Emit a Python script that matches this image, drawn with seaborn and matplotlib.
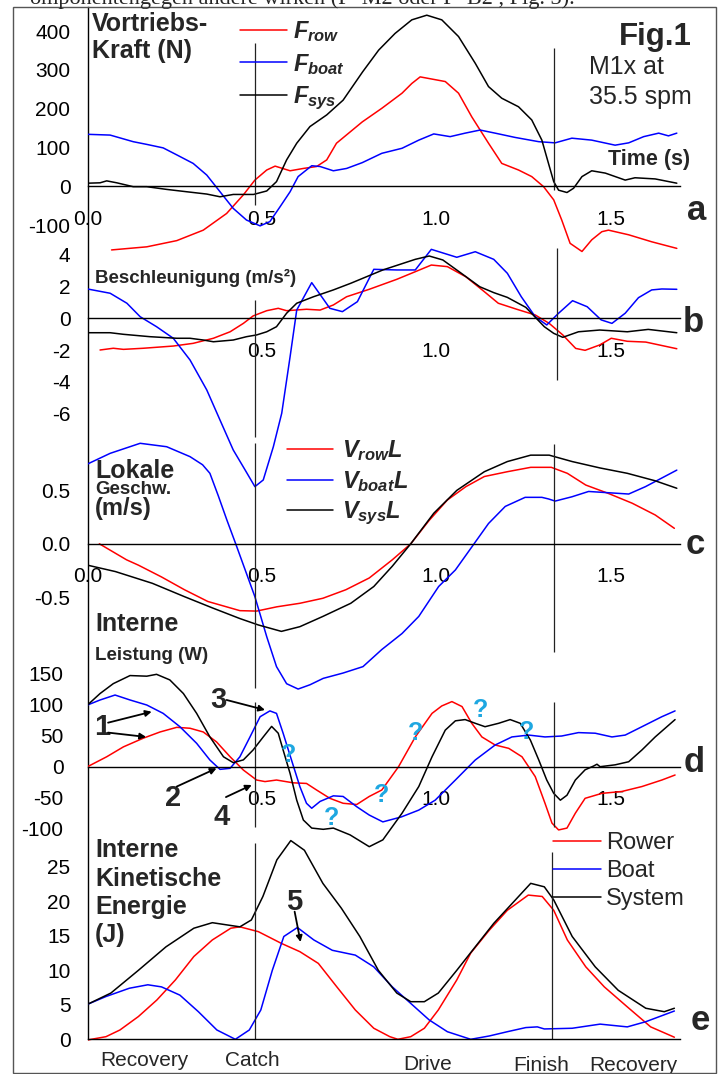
from matplotlib import pyplot as plt
from matplotlib.patches import Rectangle
from matplotlib.ticker import MultipleLocator
import seaborn as sns

W, H = 725, 1074
X0, X1 = 87.5, 680.3      # pixel columns of t = 0 and t = 1.7 s
T_MAX = 1.7

# ---------------- a: Vortriebs-Kraft (N)
t_frow = [.069, .170, .256, .332, .399, .447, .480, .514, .538, .581, .619, .657, .686, .714, .788,
          .844, .902, .930, .954, .978, 1.026, 1.064, 1.102, 1.150, 1.188, 1.236, 1.274, 1.308, 1.337,
          1.360, 1.384, 1.418, 1.446, 1.475, 1.494, 1.552, 1.618, 1.690]
f_row = [-164, -156, -140, -113, -70, -22, 16, 42, 52, 40, 46, 51, 68, 111, 166,
         201, 240, 265, 282, 278, 270, 240, 179, 111, 59, 42, 25, -1, -35,
         -87, -147, -168, -138, -117, -113, -125, -143, -160]
t_fboat = [0, .065, .131, .170, .217, .256, .303, .342, .380, .418, .456, .495, .523, .552, .581, .604,
           .643, .667, .705, .743, .788, .844, .902, .950, .993, 1.040, 1.083, 1.126, 1.169, 1.226,
           1.294, 1.341, 1.389, 1.446, 1.513, 1.552, 1.595, 1.638, 1.666, 1.690]
f_boat = [134, 132, 115, 108, 99, 81, 59, 29, -14, -57, -87, -102, -91, -53, -14, 25,
          53, 51, 40, 46, 61, 85, 98, 119, 135, 128, 137, 145, 137, 126,
          115, 112, 124, 119, 106, 112, 128, 137, 130, 137]
t_fsys = [0, .036, .055, .084, .131, .170, .227, .284, .342, .380, .418, .476, .514, .542, .571, .600,
          .638, .686, .733, .789, .835, .882, .930, .973, 1.016, 1.064, 1.112, 1.150, 1.188, 1.236,
          1.274, 1.303, 1.322, 1.337, 1.351, 1.375, 1.394, 1.418, 1.446, 1.485, 1.542, 1.570, 1.628, 1.690]
f_sys = [8, 9, 14, 9, -1, -1, -8, -14, -20, -27, -21, -21, -12, 12, 68, 111,
         154, 184, 222, 295, 351, 394, 429, 441, 429, 386, 317, 257, 227, 205,
         171, 119, 59, 12, -10, -16, -5, 25, 40, 34, 16, 22, 19, 8]

# ---------------- b: Beschleunigung (m/s2)
t_arow = [.036, .074, .103, .160, .246, .303, .361, .409, .447, .475, .514, .547, .571, .628, .667, .705,
          .743, .808, .887, .940, .986, 1.032, 1.085, 1.138, 1.178, 1.231, 1.284, 1.324, 1.363, 1.400,
          1.427, 1.469, 1.502, 1.548, 1.601, 1.690]
a_row = [-2.0, -1.89, -1.96, -1.89, -1.75, -1.58, -1.26, -0.85, -0.32, 0.15, 0.48, 0.63, 0.48, 0.57, 0.52, 0.84,
         1.36, 1.83, 2.46, 2.94, 3.36, 3.26, 2.62, 1.68, 0.95, 0.57, 0.21, -0.32, -1.05, -1.9,
         -2.02, -1.68, -1.26, -1.45, -1.5, -1.92]
t_aboat = [0, .065, .113, .151, .198, .246, .294, .342, .380, .418, .452, .480, .504, .533, .557, .581,
           .600, .643, .695, .731, .774, .821, .887, .940, .986, 1.059, 1.112, 1.165, 1.204, 1.244,
           1.284, 1.317, 1.350, 1.391, 1.433, 1.473, 1.504, 1.542, 1.580, 1.618, 1.647, 1.690]
a_boat = [1.85, 1.58, 0.95, 0.10, -0.53, -1.26, -2.63, -4.52, -6.42, -8.31, -9.57, -10.62, -10.2, -8.10, -5.99, -2.42,
          0.52, 2.25, 0.63, 0.42, 1.05, 3.09, 3.05, 3.05, 4.35, 3.85, 4.2, 3.72, 2.84, 1.36,
          0.1, -0.42, 0.3, 1.11, 0.73, -0.1, -0.32, 0.32, 1.3, 1.79, 1.85, 1.83]
t_asys = [0, .065, .103, .179, .256, .294, .332, .361, .418, .456, .485, .514, .542, .571, .600, .648,
          .705, .755, .847, .940, .980, 1.019, 1.072, 1.125, 1.165, 1.204, 1.257, 1.310, 1.337, 1.363,
          1.408, 1.469, 1.548, 1.608, 1.690]
a_sys = [-0.91, -0.91, -1.01, -1.16, -1.26, -1.26, -1.37, -1.48, -1.37, -1.16, -1.05, -0.85, -0.53, 0.32, 0.95, 1.36,
         1.79, 2.21, 3.05, 3.72, 3.93, 3.68, 2.84, 1.99, 1.62, 1.32, 0.69, -0.53, -0.95, -1.2,
         -0.85, -0.74, -0.85, -0.7, -0.91]

# ---------------- c: Lokale Geschw. (m/s)
t_vrow = [.034, .112, .146, .212, .278, .345, .437, .485, .543, .609, .675, .741, .808, .874, .927, .980,
          1.032, 1.085, 1.138, 1.204, 1.271, 1.330, 1.376, 1.429, 1.495, 1.562, 1.628, 1.683]
v_row = [0, -.15, -.20, -.31, -.43, -.54, -.626, -.63, -.59, -.557, -.51, -.43, -.32, -.15, 0, .22,
         .41, .535, .63, .675, .716, .716, .66, .55, .47, .38, .27, .145]
t_vboat = [0, .065, .151, .227, .294, .330, .351, .375, .400, .425, .480, .514, .542, .571, .604, .638,
           .676, .733, .790, .844, .902, .950, 1.007, 1.055, 1.102, 1.150, 1.198, 1.255, 1.303, 1.322,
           1.341, 1.389, 1.437, 1.485, 1.552, 1.600, 1.690]
v_boat = [.747, .847, .941, .909, .816, .74, .66, .45, .22, 0, -.495, -.87, -1.15, -1.31, -1.36, -1.32,
          -1.26, -1.21, -1.15, -.99, -.84, -.68, -.40, -.245, -.03, .19, .35, .435, .435, .42,
          .40, .44, .49, .48, .466, .535, .69]
t_vsys = [0, .080, .186, .278, .358, .437, .490, .556, .609, .675, .755, .821, .874, .927, .993, 1.059,
          1.138, 1.204, 1.271, 1.324, 1.390, 1.470, 1.548, 1.628, 1.690]
v_sys = [-.20, -.26, -.37, -.495, -.60, -.70, -.76, -.82, -.776, -.68, -.557, -.40, -.21, 0, .286, .50,
         .675, .77, .83, .83, .77, .71, .66, .59, .52]

# ---------------- d: Interne Leistung (W)
t_prow = [0, .055, .103, .160, .208, .256, .294, .332, .370, .409, .447, .485, .509, .542, .590, .628,
          .657, .695, .733, .772, .808, .844, .892, .940, .988, 1.016, 1.045, 1.074, 1.102, 1.131,
          1.169, 1.208, 1.246, 1.284, 1.312, 1.332, 1.351, 1.375, 1.399, 1.427, 1.475, 1.532, 1.590,
          1.647, 1.685]
p_row = [0, 16, 32, 46, 56, 63.5, 62, 56, 40, 16, -5.4, -21.5, -24, -21.5, -26, -27,
         -37.6, -51, -59, -61, -48, -37.6, 0, 48, 86, 98, 105, 97, 70, 48,
         35, 29.6, 16, -16, -59, -91, -102, -99, -75, -51, -43, -40, -32,
         -21.5, -13.4]
t_pboat = [0, .036, .079, .122, .170, .217, .265, .313, .351, .380, .409, .437, .466, .495, .523, .542,
           .561, .585, .609, .628, .643, .667, .705, .733, .772, .808, .847, .900, .950, .997,
           1.055, 1.112, 1.169, 1.217, 1.265, 1.312, 1.360, 1.408, 1.456, 1.504, 1.542, 1.590, 1.647, 1.685]
p_boat = [99.5, 107.6, 115.6, 107.6, 99.5, 86, 64.5, 37.7, 10.8, -4.3, -2.6, 16, 48, 80.6, 90, 86,
          54, 10.8, -32, -59, -67, -56, -47, -48, -64.5, -78, -89, -81, -70, -54,
          -21.5, 10.8, 35, 48, 51, 48, 49.5, 55, 54, 48, 51, 64.5, 80.6, 90]
t_psys = [0, .036, .074, .122, .170, .198, .236, .275, .313, .351, .390, .418, .447, .475, .504, .528,
          .547, .561, .581, .600, .619, .643, .676, .705, .753, .808, .847, .902, .950, .988,
          1.026, 1.055, 1.083, 1.112, 1.140, 1.179, 1.212, 1.241, 1.270, 1.294, 1.317, 1.337, 1.356,
          1.375, 1.399, 1.427, 1.451, 1.461, 1.470, 1.513, 1.552, 1.590, 1.628, 1.685]
p_sys = [99.5, 118, 134, 147, 146, 149, 140, 118, 86, 48, 16, 6.5, 11, 27, 48, 65,
         54, 27, -11, -54, -86, -99, -101, -99, -110, -129, -118, -75, -32, 16,
         59, 74, 76, 70, 64.5, 70, 76, 70, 43, 11, -21.5, -43, -54,
         -46, -21.5, -5, 1, 4, 0, 3, 8, 27, 48, 76]

# ---------------- e: Interne Kinetische Energie (J)
t_erow = [0, .053, .093, .146, .199, .252, .305, .358, .411, .437, .490, .556, .609, .662, .715, .768,
          .821, .867, .890, .927, .966, 1.006, 1.059, 1.099, 1.152, 1.204, 1.264, 1.304, 1.337, 1.376,
          1.429, 1.482, 1.548, 1.615, 1.683]
e_row = [-0.1, .38, 1.35, 3.3, 5.7, 8.6, 12.0, 14.4, 16.1, 16.3, 15.6, 13.9, 12.7, 11.0, 7.6, 4.25,
         1.6, .38, 0, .38, 1.6, 4.25, 8.6, 12.5, 15.8, 18.7, 20.9, 20.7, 18.7, 14.4,
         10.5, 7.6, 4.7, 1.8, .3]
t_eboat = [0, .053, .120, .173, .212, .265, .318, .371, .424, .464, .497, .530, .563, .602, .649, .702,
           .768, .821, .874, .927, .980, 1.032, 1.099, 1.152, 1.204, 1.257, 1.290, 1.310, 1.390, 1.470,
           1.548, 1.601, 1.683]
e_boat = [5.07, 6.2, 7.4, 7.9, 7.6, 6.4, 4.0, 1.35, 0, 1.35, 4.25, 10.0, 14.9, 16.2, 14.4, 12.9,
          12.2, 10.5, 7.6, 5.2, 2.8, 1.1, 0, .48, 1.1, 1.7, 1.8, 1.5, 1.6, 2.2,
          1.8, 2.55, 4.1]
t_esys = [0, .067, .146, .225, .305, .358, .397, .437, .470, .503, .543, .583, .622, .675, .728, .781,
          .834, .887, .927, .966, 1.006, 1.059, 1.112, 1.165, 1.218, 1.271, 1.310, 1.337, 1.390, 1.456,
          1.522, 1.601, 1.654, 1.683]
e_sys = [5.07, 6.7, 10.0, 13.4, 16.1, 16.9, 16.6, 16.3, 17.3, 20.7, 26.0, 28.8, 27.4, 22.6, 19.0, 14.9,
         10.0, 6.7, 5.45, 5.45, 6.7, 10.0, 13.4, 16.8, 19.7, 22.6, 22.1, 20.2, 14.9, 10.5,
         7.1, 4.5, 4.0, 4.5]

# catch / finish markers (t) and the question marks in d
t_catch = 0.48
t_finish = 1.339
q_t = [.576, .700, .844, .940, 1.126, 1.260]
q_p = [19, -83, -45.6, 54, 91.5, 56.5]

phase_names = ["Recovery", "Catch", "Drive", "Finish", "Recovery"]
phase_t = [0.163, 0.474, 0.976, 1.30, 1.566]
phase_y = [-3.87, -3.87, -4.5, -4.6, -4.6]


def px(x, y):
    return x / W, 1 - y / H


def panel(fig, y0, scale, lo, hi):
    # y0: pixel row of the zero line, scale: pixels per data unit
    top = y0 - hi * scale
    bottom = y0 - lo * scale
    ax = fig.add_axes([X0 / W, 1 - bottom / H, (X1 - X0) / W, (bottom - top) / H])
    ax.set_xlim(0, T_MAX)
    ax.set_ylim(lo, hi)
    ax.patch.set_visible(False)
    for side in ("top", "right", "left"):
        ax.spines[side].set_visible(False)
    ax.spines["bottom"].set_position(("data", 0))
    ax.spines["bottom"].set_linewidth(1.0)
    ax.spines["bottom"].set_color("black")
    ax.tick_params(axis="both", which="both", direction="out", length=5.3, width=0.8,
                   colors="black", labelsize=15)
    ax.tick_params(axis="y", pad=7)
    ax.tick_params(axis="x", pad=11.5)
    ax.grid(False)
    return ax


def curves(ax, series):
    for t, v, c in series:
        sns.lineplot(x=t, y=v, ax=ax, color=c, linewidth=1.1, sort=False, estimator=None)


def markers(ax, catch_span, finish_span, t_fin=t_finish):
    ax.vlines(t_catch, *catch_span, color="#222222", lw=0.9)
    ax.vlines(t_fin, *finish_span, color="#222222", lw=0.9)


def arrow(ax, start, end):
    ax.annotate("", xy=end, xytext=start,
                arrowprops=dict(arrowstyle="-|>", color="black", lw=1.3,
                                mutation_scale=9, shrinkA=0, shrinkB=0))


def main() -> None:
    sns.set_theme(style="white")
    plt.rcParams["font.family"] = ["Liberation Sans", "DejaVu Sans"]
    plt.rcParams["axes.unicode_minus"] = False
    plt.rcParams["mathtext.fontset"] = "custom"
    plt.rcParams["mathtext.it"] = "Liberation Sans:bold:italic"
    plt.rcParams["mathtext.rm"] = "Liberation Sans:bold"
    plt.rcParams["mathtext.bf"] = "Liberation Sans:bold"

    fig = plt.figure(figsize=(W / 100, H / 100), dpi=100)

    # outer box, continuous time-axis spine
    fig.patches.append(Rectangle(px(13, 1073), (716 - 13) / W, (1073 - 7) / H,
                                 transform=fig.transFigure, fill=False,
                                 edgecolor="#555555", lw=1.0))
    frame = fig.add_axes([X0 / W, 1 - 1039.3 / H, (X1 - X0) / W, (1039.3 - 7) / H])
    frame.patch.set_visible(False)
    frame.set_xticks([])
    frame.set_yticks([])
    for side in ("top", "right", "bottom"):
        frame.spines[side].set_visible(False)
    frame.spines["left"].set_color("black")
    frame.spines["left"].set_linewidth(1.0)

    fig.text(*px(30, 4), "omponentengegen andere wirken (F  M2 oder F  B2 , Fig. 3).",
             family="Liberation Serif", fontsize=16, va="baseline")

    # ---- a
    ax_a = panel(fig, 186.3, 0.388, -180, 450)
    curves(ax_a, [(t_frow, f_row, "red"), (t_fboat, f_boat, "blue"), (t_fsys, f_sys, "black")])
    ax_a.set_yticks([-100, 0, 100, 200, 300, 400], ["-100", "0", "100", "200", "300", "400"])
    ax_a.set_xticks([0, 0.5, 1.0, 1.5], ["0.0", "0.5", "1.0", "1.5"])
    ax_a.xaxis.set_minor_locator(MultipleLocator(0.1))
    markers(ax_a, (-48, 369), (-10, 356))
    ax_a.legend(ax_a.get_lines()[:3], [r"$F_{row}$", r"$F_{boat}$", r"$F_{sys}$"],
                loc="upper left", bbox_to_anchor=px(240, 19), bbox_transform=fig.transFigure,
                frameon=False, fontsize=17, handlelength=2.0, handletextpad=0.25,
                labelspacing=0.33, borderpad=0, borderaxespad=0)

    # ---- b
    ax_b = panel(fig, 318.3, 15.85, -11.5, 5)
    curves(ax_b, [(t_arow, a_row, "red"), (t_aboat, a_boat, "blue"), (t_asys, a_sys, "black")])
    ax_b.set_yticks([-6, -4, -2, 0, 2, 4], ["-6", "-4", "-2", "0", "2", "4"])
    ax_b.set_xticks([0.5, 1.0, 1.5], ["0.5", "1.0", "1.5"])
    markers(ax_b, (-7.49, 1.15), (-3.89, 4.44), t_fin=1.345)

    # ---- c
    ax_c = panel(fig, 543.8, 106.8, -1.45, 1.0)
    curves(ax_c, [(t_vrow, v_row, "red"), (t_vboat, v_boat, "blue"), (t_vsys, v_sys, "black")])
    ax_c.set_yticks([-1.0, -0.5, 0.0, 0.5], ["", "-0.5", "0.0", "0.5"])
    ax_c.set_xticks([0, 0.5, 1.0, 1.5], ["0.0", "0.5", "1.0", "1.5"])
    ax_c.xaxis.set_minor_locator(MultipleLocator(0.1))
    markers(ax_c, (-1.35, 0.944), (-1.01, 0.934))
    ax_c.legend(ax_c.get_lines()[:3], [r"$V_{row}L$", r"$V_{boat}L$", r"$V_{sys}L$"],
                loc="upper left", bbox_to_anchor=px(287, 438), bbox_transform=fig.transFigure,
                frameon=False, fontsize=17, handlelength=1.95, handletextpad=0.38,
                labelspacing=0.25, borderpad=0, borderaxespad=0)

    # ---- d
    ax_d = panel(fig, 766.7, 0.62, -140, 160)
    curves(ax_d, [(t_prow, p_row, "red"), (t_pboat, p_boat, "blue"), (t_psys, p_sys, "black")])
    ax_d.set_yticks([-100, -50, 0, 50, 100, 150], ["-100", "-50", "0", "50", "100", "150"])
    ax_d.tick_params(axis="y", pad=12)
    ax_d.set_xticks([0.5, 1.0, 1.5], ["0.5", "1.0", "1.5"])
    ax_d.xaxis.set_minor_locator(MultipleLocator(0.1))
    markers(ax_d, (-97, 104), (-97, 104))
    for t, p in zip(q_t, q_p):
        ax_d.text(t, p, "?", color="#1ea7e1", fontsize=18, fontweight="bold",
                  ha="center", va="center")
    num = dict(fontsize=21, fontweight="bold", ha="center", va="center")
    ax_d.text(0.042, 64, "1", **num)
    arrow(ax_d, (0.059, 71), (0.184, 88.7))
    arrow(ax_d, (0.059, 55), (0.168, 48))
    ax_d.text(0.245, -50, "2", **num)
    arrow(ax_d, (0.256, -32), (0.370, -2.6))
    ax_d.text(0.374, 107.6, "3", **num)
    arrow(ax_d, (0.399, 107.6), (0.509, 91.5))
    ax_d.text(0.385, -80.6, "4", **num)
    arrow(ax_d, (0.397, -49), (0.471, -29.5))

    # ---- e
    ax_e = panel(fig, 1039.3, 6.9, -1.0, 30)
    curves(ax_e, [(t_erow, e_row, "red"), (t_eboat, e_boat, "blue"), (t_esys, e_sys, "black")])
    ax_e.set_yticks([0, 5, 10, 15, 20, 25], ["0", "5", "10", "15", "20", "25"])
    ax_e.set_xticks([0, 0.5, 1.0, 1.5], ["", "", "", ""])
    markers(ax_e, (0, 28.4), (0, 27.1), t_fin=1.333)
    ax_e.text(0.594, 19.9, "5", **num)
    arrow(ax_e, (0.594, 18.5), (0.611, 14.1))
    ax_e.legend(ax_e.get_lines()[:3], ["Rower", "Boat", "System"],
                loc="upper left", bbox_to_anchor=px(553, 832), bbox_transform=fig.transFigure,
                frameon=False, fontsize=17, handlelength=2.05, handletextpad=0.2,
                labelspacing=0.25, borderpad=0, borderaxespad=0)
    for name, t, y in zip(phase_names, phase_t, phase_y):
        ax_e.text(t, y, name, fontsize=15, ha="center", va="baseline")

    # ---- panel titles and notes
    big = dict(fontsize=18, fontweight="bold", va="baseline")
    small = dict(fontsize=13.5, fontweight="bold", va="baseline")
    fig.text(*px(92, 31), "Vortriebs-", **big)
    fig.text(*px(92, 58), "Kraft (N)", **big)
    fig.text(*px(619, 45), "Fig.1", fontsize=22.5, fontweight="bold", va="baseline")
    fig.text(*px(589, 74), "M1x at", fontsize=18, va="baseline")
    fig.text(*px(589, 104), "35.5 spm", fontsize=18, va="baseline")
    fig.text(*px(608, 165), "Time (s)", fontsize=15.5, fontweight="bold", va="baseline")
    fig.text(*px(95, 283), "Beschleunigung (m/s²)", **small)
    fig.text(*px(95, 478), "Lokale", **big)
    fig.text(*px(95, 494), "Geschw.", **small)
    fig.text(*px(95, 515), "(m/s)", fontsize=17, fontweight="bold", va="baseline")
    fig.text(*px(95, 631), "Interne", **big)
    fig.text(*px(95, 660), "Leistung (W)", **small)
    for y, s in zip([857, 886, 914, 942], ["Interne", "Kinetische", "Energie", "(J)"]):
        fig.text(*px(95, y), s, **big)
    letter = dict(fontsize=25, fontweight="bold", ha="center", va="center")
    for (x, y), s in zip([(697, 210), (693, 323), (695, 545), (694, 763), (700, 1020)],
                         ["a", "b", "c", "d", "e"]):
        fig.text(*px(x, y), s, **letter)

    fig.savefig("out.png", dpi=100)


if __name__ == "__main__":
    main()
